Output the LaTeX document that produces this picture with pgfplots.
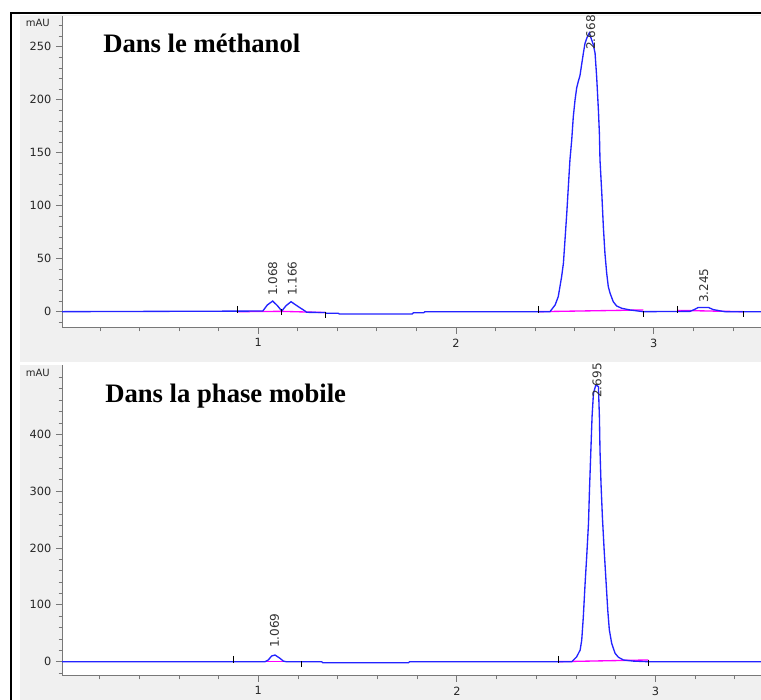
\documentclass[border=0pt]{standalone}
\usepackage{pgfplots}
\pgfplotsset{compat=1.18}
\usepackage{fontspec}
\setmainfont{DejaVu Sans}
\newfontfamily\titlefont{Liberation Serif}
\definecolor{trace}{RGB}{35,35,255}
\definecolor{basel}{RGB}{255,0,255}
\definecolor{bggrey}{RGB}{240,240,240}
\definecolor{axgrey}{RGB}{120,120,120}

\pgfplotsset{chrom/.style={
  scale only axis, width=524.25pt, anchor=south west,
  axis x line*=bottom, axis y line*=left,
  axis line style={axgrey, line width=0.75pt},
  axis background/.style={fill=white},
  tick align=outside,
  major tick length=4.5pt, minor tick length=2.5pt,
  tick style={axgrey, line width=0.6pt},
  xtick={1,2,3},
  minor xtick={0.2,0.4,0.6,0.8,1.2,1.4,1.6,1.8,2.2,2.4,2.6,2.8,3.2,3.4},
  ticklabel style={font=\fontsize{8.5}{10}\selectfont, text=black!85},
  /pgf/number format/assume math mode=true,
  clip=false,
}}
\tikzset{
  pk/.style={rotate=90, anchor=west, inner sep=0pt, font=\fontsize{9}{10}\selectfont, text=black!80},
  mau/.style={anchor=east, inner sep=0pt, xshift=-9pt, font=\fontsize{7.5}{8}\selectfont, text=black!85},
  tr/.style={trace, line width=1pt},
  bl/.style={basel, line width=1pt},
  upm/.style={only marks, mark=|, mark size=2.5pt, mark options={black, line width=0.7pt, yshift=1.8pt}},
  dnm/.style={only marks, mark=|, mark size=2.2pt, mark options={black, line width=0.7pt, yshift=-1.6pt}},
  midm/.style={only marks, mark=|, mark size=2.3pt, mark options={black, line width=0.7pt}},
}

\begin{document}
\begin{tikzpicture}
\useasboundingbox (0pt,0pt) rectangle (570.75pt,525pt);
\fill[white] (0pt,0pt) rectangle (570.75pt,525pt);
\fill[bggrey] (15pt,253.5pt) rectangle (570.75pt,513.75pt);
\fill[bggrey] (15pt,0pt) rectangle (570.75pt,251.25pt);
\draw[black, line width=1.6pt] (7.5pt,515.25pt) -- (570.75pt,515.25pt);
\draw[black, line width=1.6pt] (8.25pt,0pt) -- (8.25pt,516pt);

% ---------- top panel ----------
\begin{axis}[chrom, at={(46.5pt,279pt)}, height=234pt,
  xmin=0.008, xmax=3.542, ymin=-15.4, ymax=279,
  ytick={0,50,100,150,200,250},
  minor ytick={-10,10,20,30,40,60,70,80,90,110,120,130,140,160,170,180,190,210,220,230,240,260,270}]
\addplot[bl] coordinates {(0.893,0) (1.119,0.3) (1.338,-0.8)};
\addplot[bl] coordinates {(2.416,0) (2.947,1.6)};
\addplot[bl] coordinates {(3.121,1.2) (3.453,0)};
\addplot[tr] coordinates {
(0.008,0) (1.023,0.6) (1.046,6.3) (1.073,10) (1.097,5.7) (1.119,0.6) (1.141,5.7)
(1.166,9.4) (1.203,4.7) (1.237,0.6) (1.245,-0.6) (1.338,-0.8) (1.345,-1.5) (1.405,-1.5)
(1.41,-2.2) (1.778,-2.2) (1.785,-1) (1.837,-1) (1.843,0) (2.475,0)
(2.501,6.3) (2.517,14.2) (2.534,33) (2.543,45.6) (2.551,67.6) (2.560,92.8) (2.568,118)
(2.576,143) (2.585,162) (2.593,184) (2.602,200) (2.610,211) (2.618,217) (2.627,223)
(2.635,233) (2.644,244) (2.652,253) (2.661,258) (2.674,263) (2.694,252) (2.703,244)
(2.711,222) (2.720,190) (2.725,168) (2.728,143) (2.737,112) (2.745,80) (2.753,55)
(2.762,36) (2.770,23.6) (2.779,17.4) (2.795,9.4) (2.812,5.4) (2.838,3.2) (2.880,1.6)
(2.947,0) (3.183,0.3) (3.205,2) (3.225,4) (3.276,4) (3.30,2) (3.343,0.5) (3.36,0) (3.542,0)};
\addplot[upm] coordinates {(0.893,0) (2.416,0) (3.121,0)};
\addplot[midm] coordinates {(1.119,0)};
\addplot[dnm] coordinates {(1.338,-0.8) (2.947,0) (3.453,0)};
\node[pk] at (axis cs:1.073,14.8) {1.068};
\node[pk] at (axis cs:1.172,14.8) {1.166};
\node[pk] at (axis cs:2.681,247) {2.668};
\node[pk] at (axis cs:3.253,8.2) {3.245};
\node[mau] at (axis cs:0.008,272) {mAU};
\end{axis}

% ---------- bottom panel ----------
\begin{axis}[chrom, at={(46.5pt,18pt)}, height=233.25pt,
  xmin=0.011, xmax=3.532, ymin=-25.2, ymax=522,
  ytick={0,100,200,300,400},
  minor ytick={-20,20,40,60,80,120,140,160,180,220,240,260,280,320,340,360,380,420,440,460,480,500}]
\addplot[bl] coordinates {(0.874,0) (1.219,0)};
\addplot[bl] coordinates {(2.511,0) (2.965,3)};
\addplot[tr] coordinates {
(0.011,0) (1.034,0) (1.050,3) (1.067,10) (1.084,11.7) (1.109,5.9) (1.126,1) (1.14,0)
(1.319,0) (1.325,-2) (1.756,-2) (1.762,0) (2.579,0)
(2.604,8.8) (2.621,20.6) (2.629,38) (2.637,79) (2.646,138) (2.654,185) (2.663,243)
(2.668,302) (2.675,372) (2.681,431) (2.688,472) (2.700,487) (2.713,484) (2.718,431)
(2.721,372) (2.726,314) (2.733,255) (2.742,196) (2.752,138) (2.760,91) (2.768,56)
(2.780,32) (2.797,14.7) (2.814,7.7) (2.839,3) (2.889,1) (2.96,0) (3.532,0)};
\addplot[upm] coordinates {(0.874,0) (2.511,0)};
\addplot[dnm] coordinates {(1.219,0) (2.965,1)};
\node[pk] at (axis cs:1.081,24) {1.069};
\node[pk] at (axis cs:2.706,464) {2.695};
\node[mau] at (axis cs:0.011,508) {mAU};
\end{axis}

\node[anchor=base west, inner sep=0pt, font=\titlefont\bfseries\fontsize{20}{24}\selectfont] at (77.25pt,485.25pt) {Dans le méthanol};
\node[anchor=base west, inner sep=0pt, font=\titlefont\bfseries\fontsize{20}{24}\selectfont] at (78.75pt,222.75pt) {Dans la phase mobile};
\end{tikzpicture}
\end{document}
